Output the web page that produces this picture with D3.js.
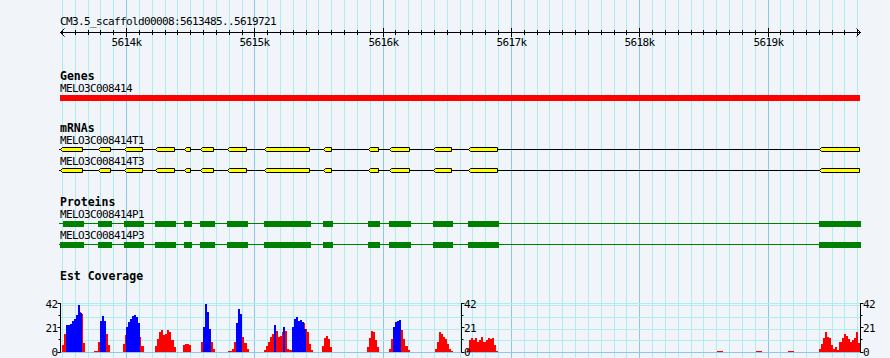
<!DOCTYPE html>
<html><head><meta charset="utf-8">
<script src="https://cdn.jsdelivr.net/npm/d3@7/dist/d3.min.js"></script>
<style>
html,body{margin:0;padding:0;background:#f1f5fa;}
svg{display:block;}
text{font-family:"DejaVu Sans Mono",monospace;fill:#000;}
.lbl{font-size:11px;letter-spacing:-0.62px;}
.ttl{font-size:11.5px;font-weight:bold;}
</style></head><body>
<svg id="chart" width="890" height="358"></svg>
<script>
// ---------------- data ----------------
const regionStart = 5613485;
const regionEnd = 5619721;
const refName = "CM3.5_scaffold00008";
const majorTicks = [5614000, 5615000, 5616000, 5617000, 5618000, 5619000];
const tickLabels = ["5614k", "5615k", "5616k", "5617k", "5618k", "5619k"];

const trackTitles = ["Genes", "mRNAs", "Proteins", "Est Coverage"];
const geneNames = ["MELO3C008414"];
const geneSpans = [[5613485, 5619721]];

const transcriptNames = ["MELO3C008414T1", "MELO3C008414T3"];
const exonStarts = [5613485, 5613785, 5613980, 5614222, 5614448, 5614580, 5614785, 5615073, 5615533, 5615884, 5616048, 5616389, 5616663, 5619399];
const exonEnds   = [5613668, 5613880, 5614132, 5614379, 5614504, 5614682, 5614943, 5615431, 5615604, 5615970, 5616211, 5616539, 5616898, 5619721];

const proteinNames = ["MELO3C008414P1", "MELO3C008414P3"];
const cdsStartsP1 = [5613511, 5613785, 5613980, 5614222, 5614448, 5614580, 5614785, 5615073, 5615533, 5615884, 5616048, 5616389, 5616663, 5619399];
const cdsStartsP3 = [5613485, 5613785, 5613980, 5614222, 5614448, 5614580, 5614785, 5615073, 5615533, 5615884, 5616048, 5616389, 5616663, 5619399];
const cdsEnds     = [5613668, 5613880, 5614132, 5614379, 5614504, 5614682, 5614943, 5615431, 5615604, 5615970, 5616211, 5616539, 5616898, 5619721];

const coverageMax = 42;
const coverageTicks = [0, 21, 42];
const coverageMinorTicks = [10.5, 31.5];
const coverageAxisPos = [5613485, 5616607, 5619721];
const binSize = 16;

const redStarts = [5613501, 5613750, 5613976, 5614226, 5614444, 5614584, 5614795, 5615075, 5615527, 5615878, 5616050, 5616408, 5616658, 5618606, 5618910, 5619160, 5619401];
const redValues = [
  [6, 16, 22, 22, 23, 25, 27, 30, 35, 33, 8],
  [1, 1, 9, 20, 22, 20, 16, 6],
  [7, 15, 20, 22, 24, 25, 24, 22, 13, 5],
  [5, 11, 17, 19, 15, 16, 19, 17, 10, 4],
  [6, 7, 7, 6],
  [9, 20, 30, 30, 20, 9, 3],
  [1, 1, 3, 9, 15, 20, 18, 13, 8, 3],
  [2, 5, 9, 13, 16, 17, 18, 13, 14, 17, 18, 3, 2, 2, 20, 24, 26, 26, 25, 25, 20, 17, 7, 2],
  [5, 12, 14, 11, 4],
  [4, 12, 18, 17, 10, 4],
  [3, 11, 18, 20, 22, 22, 19, 11, 5, 2],
  [3, 9, 17, 16, 13, 11, 7, 3, 1],
  [3, 10, 12, 10, 12, 9, 10, 13, 9, 10, 12, 11, 12, 6, 1],
  [1, 1, 1],
  [1, 1, 1],
  [1, 1, 1],
  [3, 7, 12, 17, 13, 12, 6, 3, 4, 2, 9, 12, 16, 14, 11, 9, 10, 12, 17, 8]
];
const blueStarts = [5613532, 5613797, 5613999, 5614600, 5614857, 5615153, 5615223, 5615293, 5616081];
const blueValues = [
  [23, 23, 24, 27, 29, 32, 41, 34],
  [27, 31, 27],
  [22, 26, 29, 31, 32, 30, 25],
  [22, 42, 35, 20],
  [25, 37, 33],
  [23],
  [22],
  [22, 29, 30, 27, 28, 26, 20],
  [22, 26, 27, 28]
];

// ---------------- styles ----------------
const bg = "#f1f5fa";
const minorGrid = "#aeecef";
const majorGrid = "#8ec8e8";

// ---------------- drawing ----------------
const W = 890, H = 358;
const svg = d3.select("#chart");
svg.append("rect").attr("width", W).attr("height", H).attr("fill", bg);

const x = d3.scaleLinear().domain([regionStart, regionEnd]).range([60, 860]);
const px = v => Math.round(x(v));

// vertical grid
const gridBp = d3.range(Math.ceil(regionStart / 100) * 100, regionEnd, 100);
svg.append("g").selectAll("line").data(gridBp).join("line")
  .attr("x1", d => px(d) + 0.5).attr("x2", d => px(d) + 0.5)
  .attr("y1", 0).attr("y2", H)
  .attr("stroke", d => d % 1000 === 0 ? majorGrid : minorGrid)
  .attr("stroke-width", 1);

// coverage horizontal grid
const yCov = d3.scaleLinear().domain([0, coverageMax]).range([352, 303.5]);
const yGrid = d3.scaleLinear().domain([0, coverageMax]).range([352.5, 305.5]);
const gridVals = [0, 10.5, 21, 31.5, 42];
const hg = svg.append("g");
hg.selectAll("line.g").data(gridVals).join("line")
  .attr("x1", 60).attr("x2", 861)
  .attr("y1", d => Math.round(yGrid(d) - 0.5) + 0.5).attr("y2", d => Math.round(yGrid(d) - 0.5) + 0.5)
  .attr("stroke", d => d === 0 ? majorGrid : minorGrid);
hg.append("line").attr("x1", 60).attr("x2", 861)
  .attr("y1", Math.round(yCov(coverageMax) - 0.5) + 0.5).attr("y2", Math.round(yCov(coverageMax) - 0.5) + 0.5)
  .attr("stroke", minorGrid);

// ruler
const ruler = svg.append("g");
ruler.append("text").attr("class", "lbl").attr("x", 60).attr("y", 25)
  .text(`${refName}:${regionStart}..${regionEnd}`);
ruler.append("line").attr("x1", 60).attr("x2", 861).attr("y1", 32.5).attr("y2", 32.5).attr("stroke", "#000");
ruler.append("path").attr("d", "M64.5,28.5L60.5,32.5L64.5,36.5").attr("fill", "none").attr("stroke", "#000");
ruler.append("path").attr("d", "M856.5,28.5L860.5,32.5L856.5,36.5").attr("fill", "none").attr("stroke", "#000");
ruler.selectAll("line.t").data(gridBp).join("line")
  .attr("x1", d => px(d) + 0.5).attr("x2", d => px(d) + 0.5)
  .attr("y1", d => d % 1000 === 0 ? 28 : 30).attr("y2", d => d % 1000 === 0 ? 37 : 35)
  .attr("stroke", "#000");
ruler.selectAll("text.tl").data(majorTicks).join("text")
  .attr("class", "lbl").attr("text-anchor", "middle")
  .attr("x", d => px(d) + 0.5).attr("y", 46)
  .text((d, i) => tickLabels[i]);

// titles
const titleY = [80, 132, 206, 280];
svg.selectAll("text.ttl").data(trackTitles).join("text")
  .attr("class", "ttl").attr("x", 60).attr("y", (d, i) => titleY[i]).text(d => d);

// gene
svg.append("text").attr("class", "lbl").attr("x", 60).attr("y", 92).text(geneNames[0]);
svg.append("g").selectAll("rect").data(geneSpans).join("rect")
  .attr("x", d => px(d[0])).attr("width", d => px(d[1]) - px(d[0]))
  .attr("y", 95).attr("height", 6).attr("fill", "#ff0000");

// mRNAs
const tLabelY = [144, 165];
const tLineY = [149.5, 170.5];
const exons = exonStarts.map((s, i) => [s, exonEnds[i]]);
transcriptNames.forEach((name, ti) => {
  const g = svg.append("g");
  g.append("text").attr("class", "lbl").attr("x", 60).attr("y", tLabelY[ti]).text(name);
  const cy = tLineY[ti];
  g.append("line").attr("x1", 59).attr("x2", 860).attr("y1", cy).attr("y2", cy).attr("stroke", "#000");
  g.selectAll("path").data(exons).join("path")
    .attr("d", d => {
      const x0 = px(d[0]) + 0.5, x1 = px(d[1]) - 0.5;
      return `M${x0},${cy}L${x0 + 2},${cy - 2}L${x1},${cy - 2}L${x1},${cy + 2}L${x0 + 2},${cy + 2}Z`;
    })
    .attr("fill", "#ffff00").attr("stroke", "#000").attr("stroke-width", 1);
});

// proteins
const pLabelY = [218, 239];
const pLineY = [223.5, 244.5];
const cdsSets = [cdsStartsP1, cdsStartsP3];
proteinNames.forEach((name, pi) => {
  const g = svg.append("g");
  g.append("text").attr("class", "lbl").attr("x", 60).attr("y", pLabelY[pi]).text(name);
  const cy = pLineY[pi];
  g.append("line").attr("x1", 59).attr("x2", 860).attr("y1", cy).attr("y2", cy).attr("stroke", "#008000");
  const cds = cdsSets[pi].map((s, i) => [s, cdsEnds[i]]);
  g.selectAll("rect").data(cds).join("rect")
    .attr("x", d => px(d[0])).attr("width", d => px(d[1]) - px(d[0]) + 1)
    .attr("y", cy - 2.5).attr("height", 6).attr("fill", "#008000");
});

// coverage bars
function bars(starts, values) {
  const out = [];
  starts.forEach((s, i) => values[i].forEach((v, j) => out.push({ s: s + j * binSize, e: s + (j + 1) * binSize, v })));
  return out;
}
const cov = svg.append("g").attr("shape-rendering", "crispEdges");
cov.append("g").selectAll("rect").data(bars(redStarts, redValues)).join("rect")
  .attr("x", d => px(d.s)).attr("width", d => Math.max(1, px(d.e) - px(d.s)))
  .attr("y", d => Math.round(yCov(d.v))).attr("height", d => yCov(0) - Math.round(yCov(d.v)))
  .attr("fill", "#ff0000");
cov.append("g").selectAll("rect").data(bars(blueStarts, blueValues)).join("rect")
  .attr("x", d => px(d.s)).attr("width", d => Math.max(1, px(d.e) - px(d.s)))
  .attr("y", d => Math.round(yCov(d.v))).attr("height", d => yCov(0) - Math.round(yCov(d.v)))
  .attr("fill", "#0000ff");

// coverage axes
coverageAxisPos.forEach((bp, ai) => {
  const left = ai === 0;
  const ax = px(bp) + 0.5;
  const g = svg.append("g");
  g.append("line").attr("x1", ax).attr("x2", ax).attr("y1", yCov(coverageMax) - 0.5).attr("y2", yCov(0) + 0.5).attr("stroke", "#000");
  const dir = left ? -1 : 1;
  g.selectAll("line.mj").data(coverageTicks).join("line")
    .attr("x1", ax).attr("x2", ax + dir * 3)
    .attr("y1", d => Math.round(yCov(d) - 0.5) + 0.5).attr("y2", d => Math.round(yCov(d) - 0.5) + 0.5)
    .attr("stroke", "#000");
  g.selectAll("line.mn").data(coverageMinorTicks).join("line")
    .attr("x1", ax).attr("x2", ax + dir * 2)
    .attr("y1", d => Math.round(yCov(d) - 0.5) + 0.5).attr("y2", d => Math.round(yCov(d) - 0.5) + 0.5)
    .attr("stroke", "#000");
  g.selectAll("text").data(coverageTicks).join("text")
    .attr("class", "lbl")
    .attr("text-anchor", left ? "end" : "start")
    .attr("x", left ? ax - 3 : ax + 2.5)
    .attr("y", d => yCov(d) + 4)
    .text(d => d);
});
</script>
</body></html>
